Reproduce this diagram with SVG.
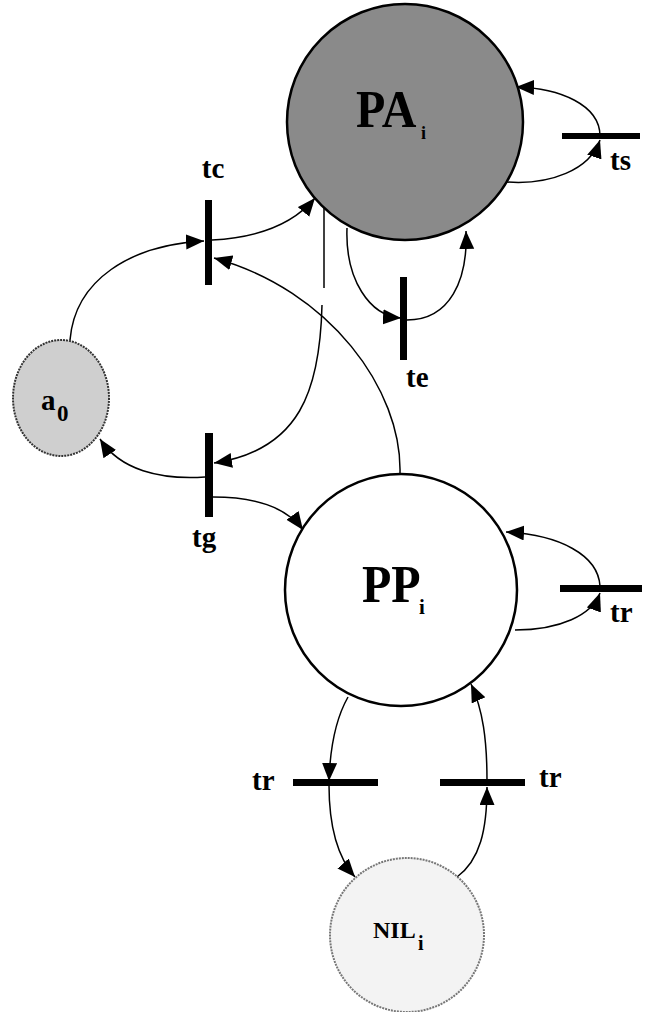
<svg xmlns="http://www.w3.org/2000/svg" width="652" height="1012" viewBox="0 0 652 1012">
<defs>
<marker id="arr" markerUnits="userSpaceOnUse" markerWidth="20" markerHeight="16" refX="18" refY="7.5" orient="auto">
<path d="M0,0 L18,7.5 L0,15 z" fill="#000"/>
</marker>
<style>
.edge{fill:none;stroke:#000;stroke-width:1.5}
.arrow{marker-end:url(#arr)}
.bar{fill:#000}
.lbl{font-family:"Liberation Serif","Times New Roman",serif;font-weight:bold;fill:#000}
.t{font-size:29px}
</style>
</defs>
<rect width="652" height="1012" fill="#fff"/>

<g id="connectors">
<path class="edge arrow" d="M70,340 C75,280 130,245 204,241"/>
<path class="edge arrow" d="M212,240 C250,238 290,228 315,198"/>
<path class="edge arrow" d="M400,473 C402,390 330,290 214,258"/>
<path class="edge" d="M324,203 L324,288"/>
<path class="edge arrow" d="M322,305 C320,390 300,450 214,463"/>
<path class="edge arrow" d="M205,477 C160,480 120,470 100,439"/>
<path class="edge arrow" d="M213,497 C250,497 285,505 303,530"/>
<path class="edge arrow" d="M347,228 C345,280 370,316 401,318"/>
<path class="edge arrow" d="M407,320 C450,320 468,280 466,231"/>
<path class="edge arrow" d="M507,182 C550,185 590,170 600,140"/>
<path class="edge arrow" d="M600,136 C600,105 560,88 516,87"/>
<path class="edge arrow" d="M600,586 C598,555 560,535 506,532"/>
<path class="edge arrow" d="M515,630 C560,630 592,615 600,593"/>
<path class="edge arrow" d="M348,697 C335,720 330,750 329,781"/>
<path class="edge arrow" d="M329,785 C329,830 340,860 355,877"/>
<path class="edge arrow" d="M457,877 C480,860 487,830 487,787"/>
<path class="edge arrow" d="M487,781 C487,740 483,710 471,684"/>
</g>

<g id="PA">
<circle cx="405" cy="122" r="118" fill="#8a8a8a" stroke="#000" stroke-width="2.5"/>
<text class="lbl" transform="translate(356,127) scale(1,1.1)" font-size="48">PA</text>
<text class="lbl" x="421" y="139" font-size="18">i</text>
</g>

<g id="PP">
<circle cx="401" cy="590" r="116" fill="#fff" stroke="#000" stroke-width="2.5"/>
<text class="lbl" transform="translate(362,602) scale(1,1.1)" font-size="48">PP</text>
<text class="lbl" x="419" y="614" font-size="21">i</text>
</g>

<g id="a0">
<ellipse cx="61" cy="398" rx="48" ry="58" fill="#cfcfcf" stroke="#333" stroke-width="2" stroke-dasharray="2,1"/>
<text class="lbl" x="41" y="410" font-size="29">a</text>
<text class="lbl" x="57" y="421" font-size="23">0</text>
</g>

<g id="NIL">
<circle cx="407" cy="935" r="77" fill="#f3f3f3" stroke="#777" stroke-width="2" stroke-dasharray="2,1"/>
<text class="lbl" x="373" y="938" font-size="24">NIL</text>
<text class="lbl" x="418" y="950" font-size="20">i</text>
</g>

<g id="tc">
<rect class="bar" x="205" y="200" width="7" height="85"/>
<text class="lbl t" x="213" y="178" text-anchor="middle">tc</text>
</g>

<g id="te">
<rect class="bar" x="400" y="277" width="7" height="83"/>
<text class="lbl t" x="406" y="387">te</text>
</g>

<g id="tg">
<rect class="bar" x="205" y="433" width="8" height="84"/>
<text class="lbl t" x="192" y="547">tg</text>
</g>

<g id="ts">
<rect class="bar" x="562" y="133" width="78" height="6"/>
<text class="lbl t" x="610" y="170">ts</text>
</g>

<g id="tr_pp">
<rect class="bar" x="560" y="585" width="82" height="7"/>
<text class="lbl t" x="610" y="622">tr</text>
</g>

<g id="tr_left">
<rect class="bar" x="293" y="779" width="85" height="7"/>
<text class="lbl t" x="252" y="790">tr</text>
</g>

<g id="tr_right">
<rect class="bar" x="440" y="779" width="85" height="7"/>
<text class="lbl t" x="539" y="787">tr</text>
</g>
</svg>
